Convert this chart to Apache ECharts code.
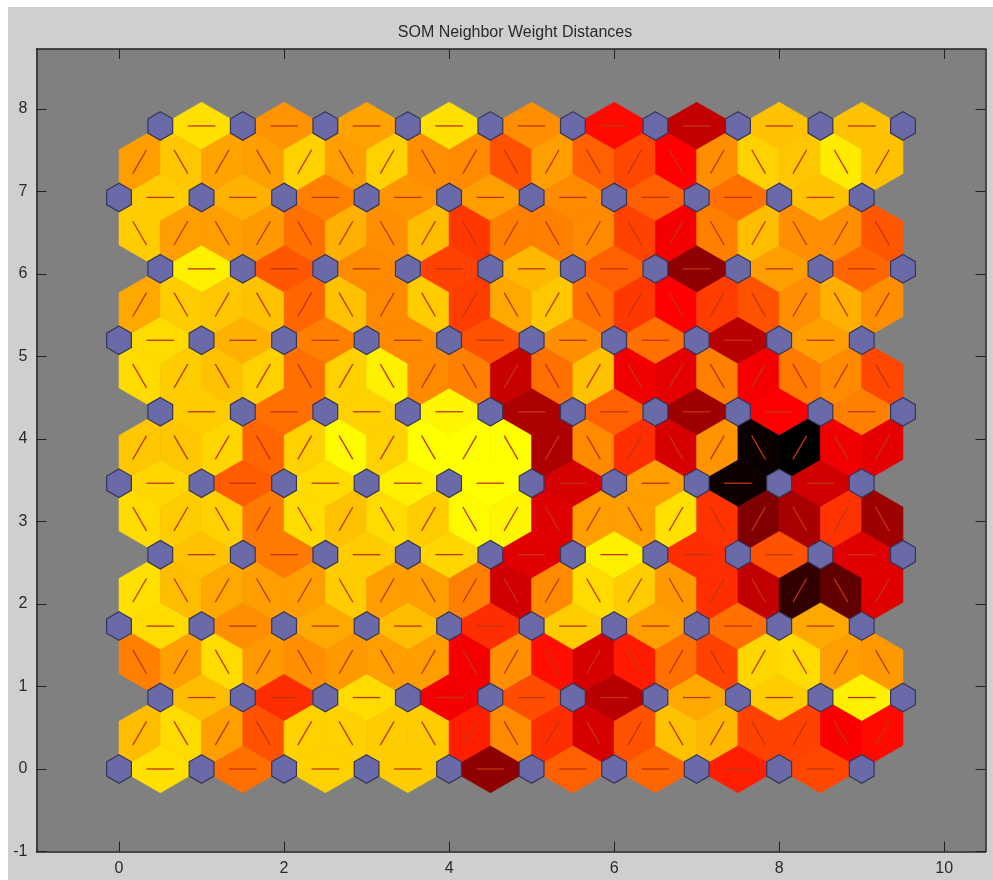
<!DOCTYPE html>
<html>
<head>
<meta charset="utf-8">
<title>SOM Neighbor Weight Distances</title>
<script src="https://cdn.jsdelivr.net/npm/echarts@6/dist/echarts.min.js"></script>
<style>
  html, body { margin: 0; padding: 0; background: #fff; }
  #panel { position: absolute; left: 8px; top: 7px; width: 985px; height: 873px; background: #cfcfcf; }
  #chart { position: absolute; left: 0; top: 0; width: 993px; height: 880px; }
</style>
</head>
<body>
<div id="panel"></div>
<div id="chart"></div>
<script>
const chartTitle = "SOM Neighbor Weight Distances";
const xTicks = [0, 2, 4, 6, 8, 10];
const yTicks = [-1, 0, 1, 2, 3, 4, 5, 6, 7, 8];

// distance between neighbours, 0 = far lightest (yellow), 1 = darkest (black)
// horizontal links, one list per neuron row
const row0 = [0.06, 0.28, 0.09, 0.1, 0.72, 0.31, 0.3, 0.44, 0.36];
const row1 = [0.13, 0.41, 0.07, 0.52, 0.35, 0.64, 0.17, 0.1, 0.03];
const row2 = [0.07, 0.22, 0.17, 0.13, 0.41, 0.1, 0.19, 0.28, 0.17];
const row3 = [0.12, 0.26, 0.1, 0.08, 0.56, 0.03, 0.41, 0.34, 0.56];
const row4 = [0.08, 0.32, 0.07, 0.03, 0, 0.58, 0.19, 0.97, 0.59];
const row5 = [0.1, 0.28, 0.09, 0.02, 0.66, 0.31, 0.69, 0.5, 0.25];
const row6 = [0.07, 0.155, 0.25, 0.23, 0.34, 0.22, 0.28, 0.64, 0.19];
const row7 = [0.03, 0.33, 0.23, 0.37, 0.14, 0.31, 0.72, 0.19, 0.3];
const row8 = [0.1, 0.155, 0.25, 0.21, 0.19, 0.23, 0.31, 0.28, 0.12];
const row9 = [0.06, 0.21, 0.18, 0.06, 0.22, 0.48, 0.62, 0.12, 0.12];

// slanted links between a row and the next one, left to right
const gap0 = [0.13, 0.07, 0.19, 0.34, 0.09, 0.09, 0.1, 0.1, 0.44, 0.23, 0.41, 0.58, 0.34, 0.12, 0.14, 0.37, 0.37, 0.51, 0.48];
const gap1 = [0.25, 0.19, 0.07, 0.2, 0.22, 0.2, 0.19, 0.19, 0.52, 0.22, 0.47, 0.58, 0.45, 0.28, 0.37, 0.08, 0.07, 0.19, 0.2];
const gap2 = [0.06, 0.13, 0.17, 0.19, 0.19, 0.1, 0.19, 0.19, 0.25, 0.59, 0.23, 0.07, 0.1, 0.2, 0.41, 0.62, 0.9, 0.81, 0.56];
const gap3 = [0.07, 0.1, 0.09, 0.26, 0.07, 0.12, 0.07, 0.1, 0.01, 0.02, 0.56, 0.19, 0.19, 0.06, 0.4, 0.75, 0.67, 0.4, 0.69];
const gap4 = [0.11, 0.11, 0.08, 0.3, 0.09, 0.01, 0.09, 0, 0, 0, 0.66, 0.23, 0.41, 0.58, 0.21, 0.98, 1, 0.53, 0.55];
const gap5 = [0.07, 0.1, 0.12, 0.09, 0.28, 0.09, 0.03, 0.23, 0.25, 0.61, 0.28, 0.12, 0.53, 0.55, 0.25, 0.52, 0.26, 0.23, 0.36];
const gap6 = [0.17, 0.1, 0.11, 0.12, 0.3, 0.12, 0.23, 0.1, 0.38, 0.17, 0.11, 0.28, 0.39, 0.5, 0.38, 0.34, 0.22, 0.155, 0.22];
const gap7 = [0.1, 0.19, 0.19, 0.2, 0.28, 0.155, 0.22, 0.13, 0.39, 0.25, 0.25, 0.23, 0.37, 0.52, 0.25, 0.13, 0.22, 0.22, 0.33];
const gap8 = [0.19, 0.11, 0.18, 0.19, 0.09, 0.19, 0.09, 0.22, 0.23, 0.34, 0.19, 0.31, 0.36, 0.5, 0.22, 0.09, 0.11, 0.04, 0.12];

const rows = [row0, row1, row2, row3, row4, row5, row6, row7, row8, row9];
const gaps = [gap0, gap1, gap2, gap3, gap4, gap5, gap6, gap7, gap8];

const rowStep = Math.sqrt(0.75);
const halfWide = Math.sqrt(0.75) / 3; // half width of a link patch, across the link

function neuronPos(r, c) {
  return [c + (r % 2) * 0.5, r * rowStep];
}

// every neuron of the 10x10 hex map
const neurons = [];
for (let r = 0; r < rows.length; r++) {
  for (let c = 0; c <= rows[r].length; c++) {
    neurons.push(neuronPos(r, c));
  }
}

// every link as [x1, y1, x2, y2, distance]
const links = [];
rows.forEach(function (list, r) {
  list.forEach(function (v, c) {
    links.push(neuronPos(r, c).concat(neuronPos(r, c + 1), [v]));
  });
});
gaps.forEach(function (list, r) {
  list.forEach(function (v, i) {
    // odd entries of an even gap lean left, even entries of an odd gap lean left
    const c = Math.floor((i + 1) / 2);
    let a, b;
    if (r % 2 === 0) {
      a = neuronPos(r, c);
      b = neuronPos(r + 1, Math.floor(i / 2));
    } else {
      a = neuronPos(r, Math.floor(i / 2));
      b = neuronPos(r + 1, c);
    }
    links.push(a.concat(b, [v]));
  });
});

function renderLink(params, api) {
  const x1 = api.value(0), y1 = api.value(1), x2 = api.value(2), y2 = api.value(3);
  const len = Math.hypot(x2 - x1, y2 - y1);
  const nx = -(y2 - y1) / len * halfWide, ny = (x2 - x1) / len * halfWide;
  const mx = (x1 + x2) / 2, my = (y1 + y2) / 2;
  const color = api.visual("color");
  return {
    type: "group",
    children: [
      {
        type: "polygon",
        shape: { points: [[x1, y1], [mx + nx, my + ny], [x2, y2], [mx - nx, my - ny]].map(api.coord) },
        style: { fill: color, stroke: color, lineWidth: 0.6 },
      },
      {
        type: "line",
        shape: (function () {
          const p1 = api.coord([(2 * x1 + x2) / 3, (2 * y1 + y2) / 3]);
          const p2 = api.coord([(x1 + 2 * x2) / 3, (y1 + 2 * y2) / 3]);
          return { x1: p1[0], y1: p1[1], x2: p2[0], y2: p2[1] };
        })(),
        style: { stroke: "#c2340f", lineWidth: 1.3 },
      },
    ],
  };
}

function renderNeuron(params, api) {
  const x = api.value(0), y = api.value(1);
  const w = 0.15, h = 0.1732;
  const pts = [[0, 1], [w, h / 2], [w, -h / 2], [0, -1], [-w, -h / 2], [-w, h / 2]].map(function (p) {
    return api.coord([x + p[0], y + (p[1] === 1 || p[1] === -1 ? p[1] * h : p[1])]);
  });
  return {
    type: "polygon",
    shape: { points: pts },
    style: { fill: "#6a6aa8", stroke: "#35355a", lineWidth: 1.2 },
  };
}

const boxLine = { onZero: false, lineStyle: { color: "#222", width: 1.5 } };
const tickStyle = { lineStyle: { color: "#222", width: 1 } };

const myChart = echarts.init(document.getElementById("chart"));
myChart.setOption({
  animation: false,
  title: {
    text: chartTitle,
    left: 510,
    top: 20,
    textAlign: "center",
    textStyle: { fontFamily: "Liberation Sans", fontSize: 16, fontWeight: "normal", color: "#2a2a2a" },
  },
  grid: {
    left: 36.5,
    top: 49,
    width: 949,
    height: 802.5,
    show: true,
    backgroundColor: "#808080",
    borderWidth: 0,
  },
  xAxis: [
    {
      type: "value",
      min: -1,
      max: 10.5,
      position: "bottom",
      splitLine: { show: false },
      axisLine: boxLine,
      axisTick: Object.assign({ inside: true, length: 10, customValues: xTicks }, tickStyle),
      axisLabel: { customValues: xTicks, margin: 9, fontFamily: "Liberation Sans", fontSize: 16, color: "#2a2a2a" },
    },
    {
      type: "value",
      min: -1,
      max: 10.5,
      position: "top",
      splitLine: { show: false },
      axisLine: boxLine,
      axisTick: Object.assign({ inside: true, length: 10, customValues: xTicks }, tickStyle),
      axisLabel: { show: false },
    },
  ],
  yAxis: [
    {
      type: "value",
      min: -1,
      max: 8.727,
      position: "left",
      splitLine: { show: false },
      axisLine: boxLine,
      axisTick: Object.assign({ inside: true, length: 10, customValues: yTicks }, tickStyle),
      axisLabel: { customValues: yTicks, margin: 9, fontFamily: "Liberation Sans", fontSize: 16, color: "#2a2a2a" },
    },
    {
      type: "value",
      min: -1,
      max: 8.727,
      position: "right",
      splitLine: { show: false },
      axisLine: boxLine,
      axisTick: Object.assign({ inside: true, length: 10, customValues: yTicks }, tickStyle),
      axisLabel: { show: false },
    },
  ],
  visualMap: {
    show: false,
    type: "continuous",
    min: 0,
    max: 1,
    dimension: 4,
    seriesIndex: 0,
    inRange: { color: ["#ffff00", "#ff0000", "#000000"] },
  },
  series: [
    {
      type: "custom",
      renderItem: renderLink,
      encode: { x: [0, 2], y: [1, 3] },
      data: links,
      silent: true,
      z: 2,
    },
    {
      type: "custom",
      renderItem: renderNeuron,
      encode: { x: 0, y: 1 },
      data: neurons,
      silent: true,
      z: 3,
    },
  ],
});
</script>
</body>
</html>
